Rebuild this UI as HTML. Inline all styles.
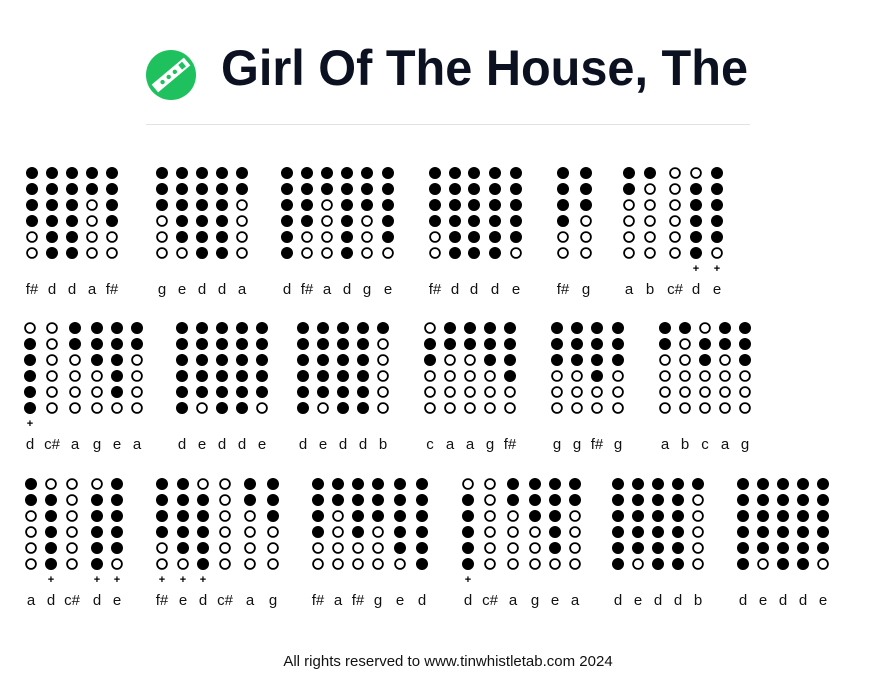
<!DOCTYPE html>
<html><head><meta charset="utf-8"><style>
html,body{margin:0;padding:0;background:#fff;}
body{width:896px;height:693px;overflow:hidden;}
</style></head><body>
<svg id="s" width="896" height="693" xmlns="http://www.w3.org/2000/svg" font-family="Liberation Sans, sans-serif">
<circle cx="171" cy="75" r="25" fill="#1fc15e"/>
<g transform="rotate(-40 171 75)">
<rect x="150" y="70" width="42" height="10" fill="#fff"/>
<circle cx="160" cy="75" r="2.2" fill="#1fc15e"/>
<circle cx="168" cy="75" r="2.2" fill="#1fc15e"/>
<circle cx="176" cy="75" r="2.2" fill="#1fc15e"/>
<rect x="183" y="72" width="5" height="6" fill="#1fc15e"/>
</g>
<text x="221" y="85" font-size="50" font-weight="bold" fill="#0b1120" textLength="527" lengthAdjust="spacingAndGlyphs">Girl Of The House, The</text>
<rect x="146" y="124" width="604" height="1" fill="#e2e2e2"/>
<text x="448" y="666" font-size="15" fill="#111" text-anchor="middle">All rights reserved to www.tinwhistletab.com 2024</text>
</svg>
<script>
var F={"d":"111111","e":"111110","f#":"111100","g":"111000","a":"110000","b":"100000","c":"011000","c#":"000000","d+":"011111","e+":"111110","f#+":"111100"};
var rows=[
{y:173,g:[
[["f#","d","d","a","f#"],[32,52,72,92,112]],
[["g","e","d","d","a"],[162,182,202,222,242]],
[["d","f#","a","d","g","e"],[287,307,327,347,367,388]],
[["f#","d","d","d","e"],[435,455,474,495,516]],
[["f#","g"],[563,586]],
[["a","b","c#","d+","e+"],[629,650,675,696,717]]]},
{y:328,g:[
[["d+","c#","a","g","e","a"],[30,52,75,97,117,137]],
[["d","e","d","d","e"],[182,202,222,242,262]],
[["d","e","d","d","b"],[303,323,343,363,383]],
[["c","a","a","g","f#"],[430,450,470,490,510]],
[["g","g","f#","g"],[557,577,597,618]],
[["a","b","c","a","g"],[665,685,705,725,745]]]},
{y:484,g:[
[["a","d+","c#","d+","e+"],[31,51,72,97,117]],
[["f#+","e+","d+","c#","a","g"],[162,183,203,225,250,273]],
[["f#","a","f#","g","e","d"],[318,338,358,378,400,422]],
[["d+","c#","a","g","e","a"],[468,490,513,535,555,575]],
[["d","e","d","d","b"],[618,638,658,678,698]],
[["d","e","d","d","e"],[743,763,783,803,823]]]}];
var s=document.getElementById("s"),h="";
rows.forEach(function(r){r.g.forEach(function(g){g[0].forEach(function(n,i){
var x=g[1][i],f=F[n];
for(var k=0;k<6;k++){var cy=r.y+16*k;
h+=f[k]=="1"?'<circle cx="'+x+'" cy="'+cy+'" r="6" fill="#000"/>':'<circle cx="'+x+'" cy="'+cy+'" r="4.9" fill="none" stroke="#000" stroke-width="1.8"/>';}
if(n.slice(-1)=="+")h+='<text x="'+x+'" y="'+(r.y+99)+'" font-size="11" font-weight="bold" text-anchor="middle">+</text>';
h+='<text x="'+x+'" y="'+(r.y+121)+'" font-size="15" fill="#111" text-anchor="middle">'+n.replace("+","")+'</text>';
});});});
s.insertAdjacentHTML("beforeend",h);
</script>
</body></html>
